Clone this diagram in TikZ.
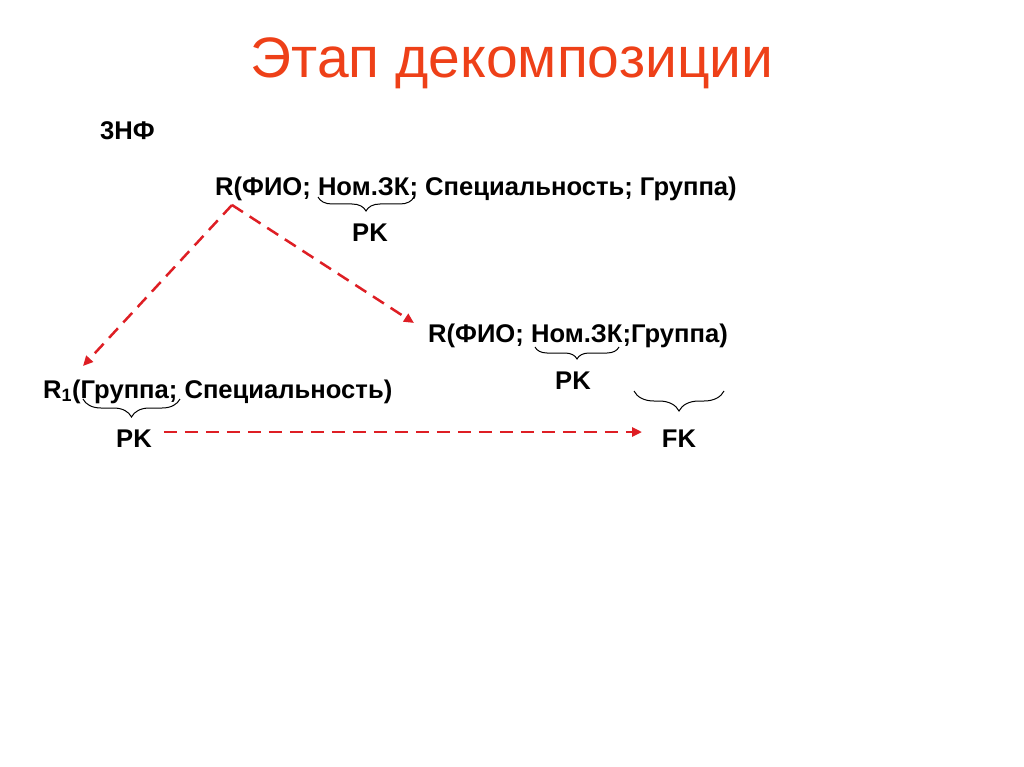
\documentclass[tikz,border=0pt]{standalone}
\usepackage{fontspec}
\setmainfont{Liberation Sans}
\usetikzlibrary{decorations.pathreplacing,arrows.meta}
\definecolor{titlecol}{RGB}{238,64,24}
\definecolor{arrcol}{RGB}{222,30,36}
\tikzset{
  lbl/.style={font=\bfseries\fontsize{25.6}{28}\selectfont, inner sep=0pt, anchor=base west},
  keylbl/.style={font=\bfseries\fontsize{25.6}{28}\selectfont, inner sep=0pt, anchor=base},
  brc/.style={decorate, decoration={brace, mirror, amplitude=#1, aspect=0.5}, line width=1pt, black},
  brc/.default=12pt,
  darr/.style={draw=arrcol, line width=2.5pt, dash pattern=on 13pt off 8pt, -{Triangle[length=10pt,width=9pt]}}
}
\begin{document}
\begin{tikzpicture}[x=1pt,y=-1pt]
\useasboundingbox[fill=white] (0,0) rectangle (1024,767);
\node[font=\fontsize{57}{60}\selectfont, text=titlecol, inner sep=0pt, anchor=base] (title) at (512,78) {Этап декомпозиции};
\node[lbl] (nf) at (100,140) {3НФ};
\node[lbl] (r) at (215,196) {R(ФИО; Ном.ЗК; Специальность; Группа)};
\coordinate (bra) at (318,197);
\coordinate (brb) at (414,197);
\draw[brc=14pt] (bra) -- (brb);
\node[keylbl] (pk1) at (370,241) {PK};
\node[lbl] (r2) at (428,342) {R(ФИО; Ном.ЗК;Группа)};
\coordinate (b2a) at (535,347);
\coordinate (b2b) at (619,347);
\draw[brc=12pt] (b2a) -- (b2b);
\node[keylbl] (pk2) at (573,389) {PK};
\coordinate (b3a) at (634,391);
\coordinate (b3b) at (724,391);
\draw[brc=20pt] (b3a) -- (b3b);
\node[keylbl] (fk) at (679,447) {FK};
\node[lbl] (r1) at (43,398) {R\textsubscript{1}(Группа; Специальность)};
\coordinate (b4a) at (83,399);
\coordinate (b4b) at (180,399);
\draw[brc=18pt] (b4a) -- (b4b);
\node[keylbl] (pk3) at (134,447) {PK};
\coordinate (src) at (232,205);
\coordinate (e1) at (83,366);
\coordinate (e2) at (414,323);
\draw[darr] (src) -- (e1);
\draw[darr] (src) -- (e2);
\draw[darr] (pk3.east |- 0,432) ++(12,0) coordinate (s3) -- (642,432) coordinate (e3);
\end{tikzpicture}
\end{document}
